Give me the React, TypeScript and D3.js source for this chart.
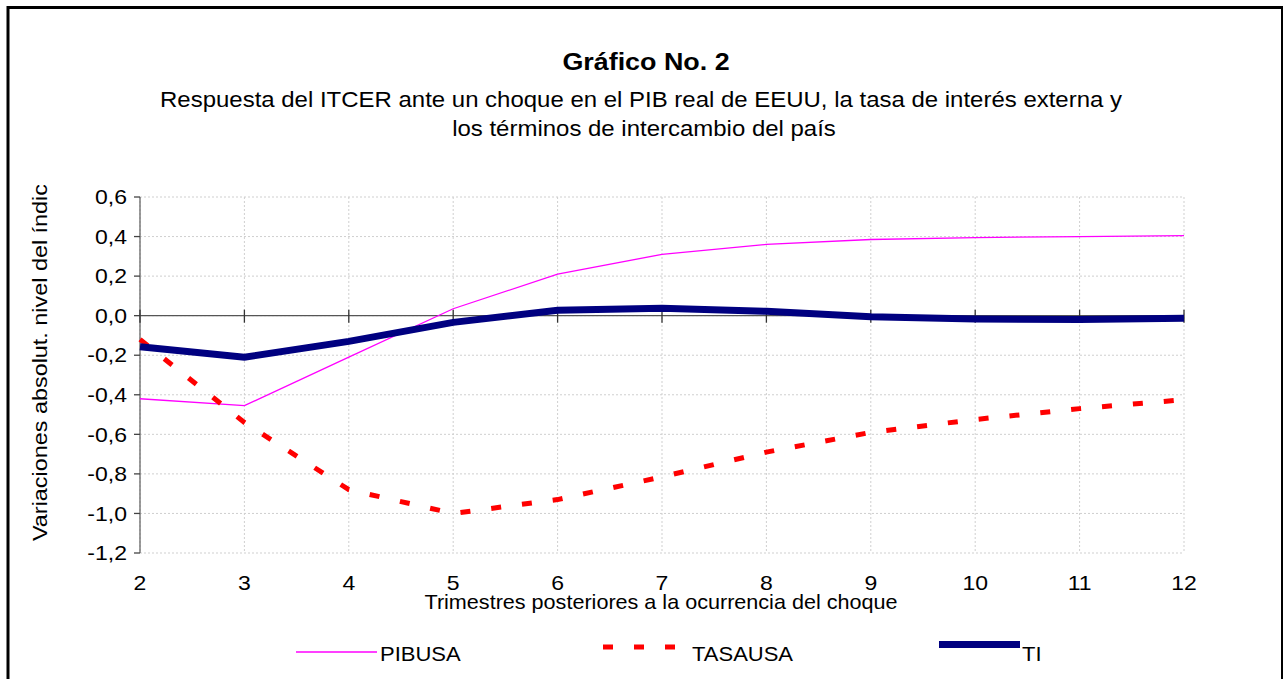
import React from "react";
import * as d3 from "d3";

const quarters = [2, 3, 4, 5, 6, 7, 8, 9, 10, 11, 12];
const pibusa = [-0.42, -0.455, -0.21, 0.035, 0.21, 0.31, 0.36, 0.385, 0.395, 0.4, 0.405];
const tasausa = [-0.12, -0.54, -0.88, -1.0, -0.93, -0.815, -0.69, -0.59, -0.525, -0.47, -0.425];
const ti = [-0.157, -0.21, -0.13, -0.034, 0.027, 0.037, 0.022, -0.005, -0.017, -0.02, -0.013];
const yTicks = [0.6, 0.4, 0.2, 0.0, -0.2, -0.4, -0.6, -0.8, -1.0, -1.2];

const seriesNames = ["PIBUSA", "TASAUSA", "TI"];

const W = 1283;
const H = 679;
const FONT = "'Liberation Sans', Arial, sans-serif";

type TProps = {
  x: number;
  y: number;
  sx?: number;
  size: number;
  anchor?: "start" | "middle" | "end";
  bold?: boolean;
  rotate?: number;
  dy?: string;
  children: React.ReactNode;
};

function T({ x, y, sx = 1, size, anchor = "start", bold, rotate = 0, dy, children }: TProps) {
  return (
    <text
      transform={`translate(${x},${y}) rotate(${rotate}) scale(${sx},1)`}
      textAnchor={anchor}
      fontSize={size}
      fontWeight={bold ? "bold" : "normal"}
      dy={dy}
      fill="#000"
    >
      {children}
    </text>
  );
}

export default function App() {
  const x = d3.scaleLinear().domain([2, 12]).range([140, 1184]);
  const y = d3.scaleLinear().domain([-1.2, 0.6]).range([553, 197]);
  const line = d3
    .line<number>()
    .x((_, i) => x(quarters[i]))
    .y((d) => y(d));
  const fmt = (v: number) => d3.format(".1f")(v).replace(".", ",").replace("−", "-");

  return (
    <svg
      width={W}
      height={H}
      style={{ position: "absolute", left: 0, top: 0, background: "#fff" }}
      fontFamily={FONT}
    >
      <defs>
        <clipPath id="ylabclip">
          <rect x={0} y={185} width={80} height={400} />
        </clipPath>
      </defs>
      <rect x={8} y={7.5} width={1274.5} height={720} fill="#fff" stroke="#000" strokeWidth={3} />

      {/* titles */}
      <T x={646} y={70} anchor="middle" bold size={24} sx={1.12}>
        Gráfico No. 2
      </T>
      <T x={641} y={107} anchor="middle" size={22} sx={1.09}>
        Respuesta del ITCER ante un choque en el PIB real de EEUU, la tasa de interés externa y
      </T>
      <T x={644} y={136} anchor="middle" size={22} sx={1.09}>
        los términos de intercambio del país
      </T>

      {/* grid */}
      <g stroke="#cfcfcf" strokeWidth={1} strokeDasharray="2,2">
        {yTicks.map((t) => (
          <line key={"h" + t} x1={x(2)} x2={x(12)} y1={y(t)} y2={y(t)} />
        ))}
        {quarters.map((q) => (
          <line key={"v" + q} x1={x(q)} x2={x(q)} y1={y(0.6)} y2={y(-1.2)} />
        ))}
      </g>

      {/* y axis */}
      <line x1={x(2)} x2={x(2)} y1={y(0.6)} y2={y(-1.2)} stroke="#666" strokeWidth={1.3} />
      {yTicks.map((t) => (
        <g key={"yt" + t}>
          <line x1={x(2) - 6} x2={x(2)} y1={y(t)} y2={y(t)} stroke="#444" strokeWidth={1.3} />
          <T x={127} y={y(t)} dy="0.36em" anchor="end" size={20} sx={1.15}>
            {fmt(t)}
          </T>
        </g>
      ))}

      {/* x axis at zero */}
      <line x1={x(2)} x2={x(12)} y1={y(0)} y2={y(0)} stroke="#555" strokeWidth={1.3} />
      {quarters.map((q) => (
        <g key={"xt" + q}>
          <line x1={x(q)} x2={x(q)} y1={y(0) - 6} y2={y(0) + 7} stroke="#333" strokeWidth={1.3} />
          <T x={x(q)} y={590} anchor="middle" size={20} sx={1.15}>
            {q}
          </T>
        </g>
      ))}
      <T x={661} y={609} anchor="middle" size={20} sx={1.08}>
        Trimestres posteriores a la ocurrencia del choque
      </T>

      {/* y axis title */}
      <g clipPath="url(#ylabclip)">
        <T x={47} y={541} rotate={-90} size={20} sx={1.17}>
          Variaciones absolut. nivel del índice
        </T>
      </g>

      {/* series */}
      <path d={line(pibusa) || ""} fill="none" stroke="#FF00FF" strokeWidth={1.3} />
      <path d={line(tasausa) || ""} fill="none" stroke="#FF0000" strokeWidth={5} strokeDasharray="10,21" />
      <path d={line(ti) || ""} fill="none" stroke="#000080" strokeWidth={7} strokeLinejoin="miter" />

      {/* legend */}
      <line x1={296} x2={377} y1={652} y2={652} stroke="#FF00FF" strokeWidth={1.5} />
      <T x={380} y={661} size={20} sx={1.1}>{seriesNames[0]}</T>
      <line x1={603} x2={680} y1={647} y2={647} stroke="#FF0000" strokeWidth={5} strokeDasharray="10,21" />
      <T x={692} y={661} size={20} sx={1.1}>{seriesNames[1]}</T>
      <line x1={939} x2={1020} y1={644.5} y2={644.5} stroke="#000080" strokeWidth={7} />
      <T x={1022} y={661} size={20} sx={1.1}>{seriesNames[2]}</T>
    </svg>
  );
}
